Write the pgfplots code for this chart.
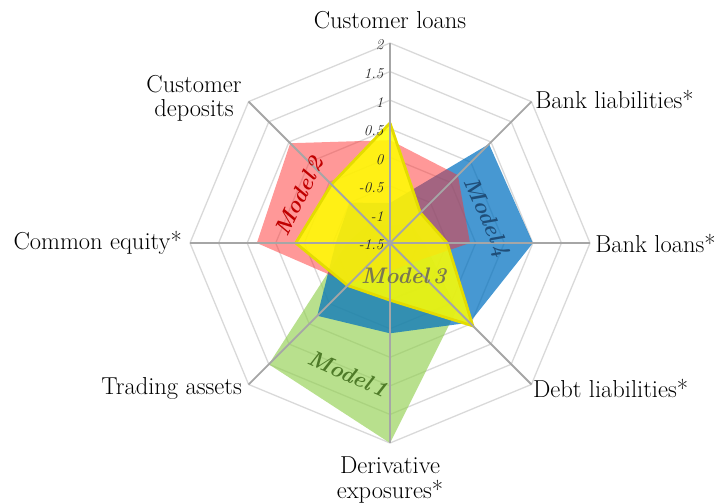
\documentclass[border=0pt]{standalone}
\usepackage{fontspec}
\usepackage{pgfplots}
\usepackage{pgfplotstable}
\pgfplotsset{compat=1.18}

\definecolor{gridc}{HTML}{D9D9D9}
\definecolor{spokec}{HTML}{A6A6A6}
\definecolor{mgreen}{RGB}{146,208,80}
\definecolor{mblue}{RGB}{0,112,192}
\definecolor{mred}{RGB}{255,50,50}
\definecolor{myellow}{RGB}{255,255,0}
\definecolor{myellowb}{RGB}{228,220,0}
\definecolor{lred}{HTML}{C00000}
\definecolor{lblue}{HTML}{1F4E79}
\definecolor{lgreen}{HTML}{4E7A28}
\definecolor{lolive}{HTML}{7A7850}

% angle of axis, values of the four models (-1.5 at centre, 2 at outer ring)
\pgfplotstableread{
angle m1    m2    m3    m4
90    -1.2  0.3   0.6   -0.8
45    -1.0  0.18  -0.75 0.95
0     -0.9  -0.1  -0.5  1.0
-45   0.15  -1.0  0.55  0.47
-90   2.0   -1.0  -0.5  0.08
-135  1.5   -0.5  -0.45 0.3
180   -0.75 0.83  0.15  -0.55
135   -1.0  0.97  -0.05 -0.5
90    -1.2  0.3   0.6   -0.8
}\radar

\begin{document}
\begin{tikzpicture}
\begin{axis}[
  x=57.14pt, y=57.14pt,
  xmin=-6.825, xmax=5.705, ymin=-4.533, ymax=4.253,
  hide axis, clip=false,
  every axis plot/.append style={forget plot},
]
\addplot[draw=none] coordinates {(-6.825,-4.533) (5.705,4.253)};

% octagonal rings
\pgfplotsinvokeforeach{0.5,1,1.5,2,2.5,3,3.5}{
  \addplot[gridc, line width=1.3pt, line join=miter] table[
    x expr={#1*cos(\thisrow{angle})},
    y expr={#1*sin(\thisrow{angle})}] {\radar};
}

% model polygons
\addplot[draw=none, fill=mgreen, fill opacity=0.65] table[
  x expr={(\thisrow{m1}+1.5)*cos(\thisrow{angle})},
  y expr={(\thisrow{m1}+1.5)*sin(\thisrow{angle})}] {\radar};
\addplot[draw=none, fill=mblue, fill opacity=0.72] table[
  x expr={(\thisrow{m4}+1.5)*cos(\thisrow{angle})},
  y expr={(\thisrow{m4}+1.5)*sin(\thisrow{angle})}] {\radar};
\addplot[draw=none, fill=mred, fill opacity=0.5] table[
  x expr={(\thisrow{m2}+1.5)*cos(\thisrow{angle})},
  y expr={(\thisrow{m2}+1.5)*sin(\thisrow{angle})}] {\radar};
\addplot[draw=myellowb, line width=2.8pt, line join=miter, fill=myellow, fill opacity=0.86] table[
  x expr={(\thisrow{m3}+1.5)*cos(\thisrow{angle})},
  y expr={(\thisrow{m3}+1.5)*sin(\thisrow{angle})}] {\radar};

% spokes
\pgfplotsinvokeforeach{0,45,90,135,180,225,270,315}{
  \addplot[spokec, line width=1.8pt] coordinates {(0,0) ({3.5*cos(#1)},{3.5*sin(#1)})};
}

% radial tick labels
\begin{scope}[every node/.style={anchor=east, xshift=-3pt, yshift=-2pt,
    font=\fontsize{15}{17}\selectfont\itshape, text=black!85}]
\node at (axis cs:0,3.5) {2};
\node at (axis cs:0,3.0) {1.5};
\node at (axis cs:0,2.5) {1};
\node at (axis cs:0,2.0) {0.5};
\node at (axis cs:0,1.5) {0};
\node at (axis cs:0,1.0) {-0.5};
\node at (axis cs:0,0.5) {-1};
\node at (axis cs:0,0.0) {-1.5};
\end{scope}

% model labels
\begin{scope}[every node/.style={font=\fontsize{22.5}{25}\selectfont\bfseries\itshape}]
\node[text=lred, rotate=64] at (axis cs:-1.59,0.82) {Model\,2};
\node[text=lblue, rotate=-66] at (axis cs:1.68,0.44) {Model\,4};
\node[text=lolive] at (axis cs:0.24,-0.58) {Model\,3};
\node[text=lgreen, rotate=-24] at (axis cs:-0.73,-2.29) {Model\,1};
\end{scope}

% category labels
\begin{scope}[every node/.style={font=\fontsize{24.5}{24.5}\selectfont, text=black, inner sep=0pt}]
\node[anchor=center] at (axis cs:0,3.90) {Customer loans};
\node[anchor=west] at (axis cs:2.54,2.52) {Bank liabilities*};
\node[anchor=west] at (axis cs:3.59,0) {Bank loans*};
\node[anchor=west] at (axis cs:2.50,-2.54) {Debt liabilities*};
\node[anchor=center, align=center] at (axis cs:0,-4.15) {Derivative\\exposures*};
\node[anchor=east] at (axis cs:-2.59,-2.54) {Trading assets};
\node[anchor=east] at (axis cs:-3.64,0) {Common equity*};
\node[anchor=center, align=center] at (axis cs:-3.43,2.53) {Customer\\deposits};
\end{scope}
\end{axis}
\end{tikzpicture}
\end{document}
